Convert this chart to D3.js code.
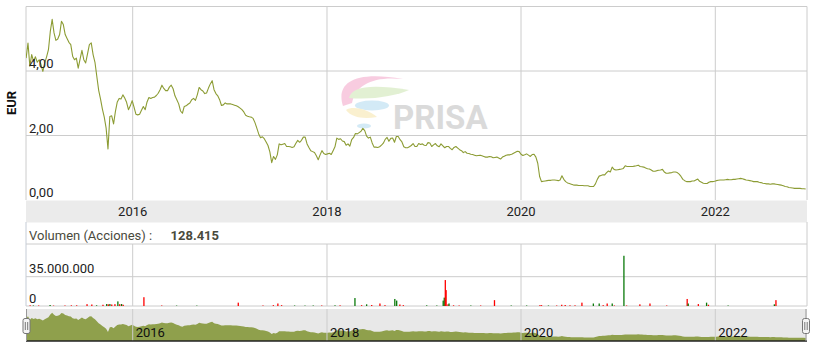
<!DOCTYPE html>
<html>
<head>
<meta charset="utf-8">
<script src="https://cdn.jsdelivr.net/npm/d3@7"></script>
<style>
  body { margin: 0; background: #fff; }
  svg { display: block; font-family: Roboto, "Noto Sans", sans-serif; }
</style>
</head>
<body>
<div id="chart"></div>
<script>
// weekly closes (EUR), first week starting 2014-11-26
const firstWeek = "2014-11-26";
const weeklyClose = [
  4.40,4.87,4.15,4.51,4.30,4.44,4.27,4.35,4.20,3.99,4.25,4.44,4.66,5.23,5.60,5.18,4.95,4.99,5.13,5.54,
  5.44,5.13,5.01,4.89,4.82,4.46,4.35,4.40,4.09,4.37,4.64,4.35,4.25,4.53,4.82,4.87,4.51,4.27,3.83,3.40,
  3.13,2.82,2.57,2.23,1.58,2.59,2.61,2.36,2.75,3.04,3.15,3.13,3.26,3.16,3.03,2.80,2.92,3.08,2.88,2.66,
  2.64,2.66,2.78,2.90,2.80,3.04,3.18,3.15,3.18,3.19,3.24,3.31,3.42,3.56,3.46,3.39,3.39,3.50,3.56,3.45,
  3.23,3.11,2.98,2.76,2.69,2.90,2.92,2.97,3.01,3.11,3.15,3.09,3.26,3.49,3.42,3.38,3.30,3.32,3.47,3.60,
  3.70,3.42,3.30,3.23,3.11,2.93,2.95,3.01,2.98,2.98,2.98,2.96,2.94,2.92,2.89,2.85,2.80,2.73,2.63,2.60,
  2.58,2.57,2.53,2.40,2.23,2.05,1.93,1.96,1.90,1.80,1.69,1.49,1.16,1.35,1.26,1.40,1.74,1.71,1.73,1.75,
  1.66,1.66,1.65,1.63,1.65,1.76,1.85,1.79,1.85,1.95,1.95,1.74,1.63,1.53,1.50,1.47,1.37,1.25,1.40,1.53,
  1.44,1.41,1.43,1.45,1.41,1.53,1.65,1.92,1.88,1.90,1.83,1.81,1.70,1.74,1.67,1.87,1.94,2.06,2.05,2.09,
  2.13,2.22,2.15,1.98,1.92,1.95,1.77,1.64,1.64,1.63,1.65,1.70,1.76,1.88,1.94,1.82,1.91,1.92,1.79,1.97,
  1.97,1.87,1.80,1.65,1.62,1.62,1.65,1.69,1.75,1.66,1.66,1.75,1.72,1.74,1.70,1.69,1.78,1.77,1.66,1.71,
  1.75,1.68,1.65,1.74,1.68,1.62,1.66,1.66,1.60,1.56,1.63,1.66,1.61,1.56,1.53,1.47,1.50,1.45,1.44,1.42,
  1.41,1.39,1.37,1.38,1.39,1.37,1.35,1.33,1.33,1.35,1.34,1.31,1.32,1.33,1.30,1.27,1.33,1.36,1.39,1.40,
  1.40,1.42,1.45,1.48,1.51,1.50,1.42,1.38,1.40,1.43,1.39,1.35,1.41,1.42,1.33,1.14,0.73,0.57,0.58,0.59,
  0.60,0.61,0.61,0.62,0.62,0.61,0.60,0.62,0.75,0.64,0.57,0.53,0.51,0.49,0.47,0.46,0.46,0.45,0.45,0.45,
  0.44,0.44,0.44,0.42,0.42,0.42,0.50,0.64,0.74,0.76,0.78,0.78,0.85,0.90,0.87,1.02,0.95,0.93,0.94,0.95,
  0.96,0.98,1.06,1.04,1.04,1.04,1.04,1.05,1.06,1.08,1.04,1.03,1.02,0.99,0.97,0.96,0.93,0.89,0.89,0.91,
  0.92,0.93,0.95,0.87,0.83,0.83,0.84,0.85,0.87,0.87,0.85,0.80,0.73,0.64,0.60,0.57,0.57,0.57,0.59,0.59,
  0.62,0.65,0.58,0.55,0.52,0.51,0.51,0.55,0.57,0.57,0.58,0.60,0.61,0.62,0.62,0.62,0.63,0.64,0.63,0.63,
  0.64,0.64,0.65,0.66,0.67,0.66,0.64,0.62,0.61,0.60,0.59,0.57,0.57,0.57,0.55,0.54,0.52,0.51,0.50,0.50,
  0.49,0.50,0.50,0.49,0.48,0.47,0.46,0.44,0.42,0.41,0.39,0.38,0.37,0.36,0.36,0.36,0.36,0.35,0.35,0.34
];

// daily volume (millions of shares), up = closed higher than previous day
const volDates = [
  "2014-12-11","2014-12-23","2015-01-12","2015-02-24","2015-03-09","2015-04-21","2015-05-15","2015-06-04",
  "2015-07-13","2015-07-31","2015-08-18","2015-09-11","2015-09-25","2015-10-01","2015-10-07","2015-10-14",
  "2015-10-26","2015-11-06","2015-11-13","2015-11-20","2015-11-26","2016-02-12","2016-04-19","2016-06-14",
  "2016-08-29","2017-02-01","2017-05-05","2017-06-13","2017-06-30","2017-07-14","2017-09-01","2017-10-10",
  "2017-11-10","2017-12-12","2018-01-31","2018-02-19","2018-04-16","2018-05-11","2018-05-30","2018-06-18",
  "2018-07-19","2018-08-07","2018-09-13","2018-09-20","2018-10-02","2018-10-15","2019-01-11","2019-02-18",
  "2019-03-14","2019-03-18","2019-03-22","2019-03-25","2019-04-01","2019-04-05","2019-04-22","2019-05-13",
  "2019-06-26","2019-08-02","2019-09-23","2019-11-25","2020-01-22","2020-03-12","2020-03-18","2020-04-13",
  "2020-05-14","2020-06-02","2020-06-15","2020-07-03","2020-07-22","2020-08-17","2020-09-29","2020-10-21",
  "2020-11-05","2020-11-20","2020-12-09","2020-12-17","2021-01-22","2021-02-01","2021-03-23","2021-04-30",
  "2021-07-02","2021-09-17","2021-09-21","2021-10-29","2021-11-29","2021-12-06","2022-02-18","2022-08-11",
  "2022-08-17"
];
const volMillions = [
  0.8,0.6,0.6,1.2,0.5,0.6,0.8,0.8,
  2.2,1.8,0.8,1.5,2.4,2.0,2.4,1.8,
  2.2,5.5,2.2,2.4,1.5,10.5,0.6,0.5,
  0.5,4.0,0.6,1.0,3.0,1.0,0.6,0.5,
  0.6,0.6,0.8,0.8,9.5,1.0,2.0,1.2,
  3.0,1.0,8.4,6.5,1.8,1.0,0.8,0.6,
  6.4,10.0,31.0,19.0,2.0,3.0,0.8,0.6,
  0.6,0.6,7.0,0.6,0.6,1.0,1.0,0.6,
  0.6,1.5,1.2,0.8,0.8,4.0,3.0,3.0,
  1.0,3.0,3.0,0.6,60.0,0.6,2.0,3.0,
  0.6,8.4,3.0,2.3,4.0,1.5,0.6,2.0,
  7.0
];
const volUp = [
  0,1,0,1,0,0,0,0,
  0,0,1,0,1,0,1,0,
  0,1,0,1,0,0,0,1,
  1,0,0,0,0,0,1,1,
  1,0,1,0,1,0,1,0,
  0,0,1,1,0,0,1,1,
  1,1,0,0,0,1,0,0,
  1,0,0,1,1,0,0,1,
  0,0,0,0,0,0,1,1,
  0,0,1,0,1,0,0,0,
  0,0,1,0,1,0,1,1,
  0
];

const priceTicks = [0, 2, 4];
const volTicks = [0, 35000000];
const yearTicks = ["2016", "2018", "2020", "2022"];
const lastVolume = "128.415";

const width = 815;
const height = 351;
const left = 26;
const right = 807;
const priceTop = 6.5;
const priceBottom = 200;
const volTop = 244;
const volBottom = 306;
const navTop = 309;
const navBottom = 341;

const lineColor = "#8c9c34";
const navColor = "#8fa04c";
const gridColor = "#cccccc";

const es = d3.formatLocale({ decimal: ",", thousands: ".", grouping: [3], currency: ["", "€"] });
const fmtPrice = es.format(",.2f");
const fmtVol = es.format(",d");

const parse = d3.utcParse("%Y-%m-%d");
const start = parse(firstWeek);
const prices = weeklyClose.map((v, i) => ({ date: d3.utcDay.offset(start, i * 7), v }));
const volumes = volDates.map((s, i) => ({ date: parse(s), v: volMillions[i] * 1e6, up: volUp[i] === 1 }));
const years = yearTicks.map((y) => parse(y + "-01-01"));

const x = d3.scaleUtc()
  .domain([parse("2016-01-01"), parse("2022-01-01")])
  .range([132.7, 715.3]);
const y = d3.scaleLinear().domain([0, 6]).range([priceBottom, priceTop]);
const yVol = d3.scaleLinear().domain([0, 35000000]).range([volBottom, 276.7]);
const yNav = d3.scaleLinear().domain([0, 6.4]).range([navBottom - 1.5, navTop]);

const svg = d3.select("#chart")
  .append("svg")
  .attr("width", width)
  .attr("height", height);

svg.append("defs")
  .append("clipPath")
  .attr("id", "plot-clip")
  .append("rect")
  .attr("x", left)
  .attr("y", priceTop - 2)
  .attr("width", right - left)
  .attr("height", priceBottom - priceTop + 2);

// ---- price panel ----
const price = svg.append("g");

price.selectAll(".hgrid")
  .data([2, 4, 6])
  .enter()
  .append("line")
  .attr("x1", left)
  .attr("x2", right)
  .attr("y1", (d) => y(d))
  .attr("y2", (d) => y(d))
  .attr("stroke", gridColor);

price.selectAll(".vgrid")
  .data(years)
  .enter()
  .append("line")
  .attr("x1", (d) => x(d))
  .attr("x2", (d) => x(d))
  .attr("y1", priceTop)
  .attr("y2", priceBottom)
  .attr("stroke", gridColor);

price.append("line")
  .attr("x1", left).attr("x2", left)
  .attr("y1", priceTop).attr("y2", priceBottom)
  .attr("stroke", gridColor);
price.append("line")
  .attr("x1", right).attr("x2", right)
  .attr("y1", priceTop).attr("y2", priceBottom)
  .attr("stroke", gridColor);

// watermark
const mark = price.append("g").attr("opacity", 0.5);
mark.append("path")
  .attr("d", "M343,106 C336,84 352,70 403,79 C374,76 356,84 352,103 Z")
  .attr("fill", "#f29bc3");
mark.append("path")
  .attr("d", "M349,98 C352,86 372,84 409,90 C396,96 372,100 349,98 Z")
  .attr("fill", "#c7e3a8");
mark.append("ellipse")
  .attr("cx", 372).attr("cy", 105.5).attr("rx", 17).attr("ry", 5)
  .attr("fill", "#a9d6ef");
mark.append("path")
  .attr("d", "M346,110 C352,106 366,108 377,117 C364,119 352,118 346,110 Z")
  .attr("fill", "#f7e3a0");
mark.append("ellipse")
  .attr("cx", 364).attr("cy", 126).attr("rx", 7).attr("ry", 2.5)
  .attr("fill", "#a9d6ef");
price.append("text")
  .attr("x", 393)
  .attr("y", 128.5)
  .attr("font-size", 33)
  .attr("font-weight", "bold")
  .attr("fill", "#dadada")
  .text("PRISA");

price.append("path")
  .datum(prices)
  .attr("clip-path", "url(#plot-clip)")
  .attr("fill", "none")
  .attr("stroke", lineColor)
  .attr("stroke-width", 1.1)
  .attr("stroke-linejoin", "round")
  .attr("d", d3.line().x((d) => x(d.date)).y((d) => y(d.v)));

price.selectAll(".ylab")
  .data(priceTicks)
  .enter()
  .append("text")
  .attr("x", left + 3)
  .attr("y", (d) => y(d) - 3)
  .attr("font-size", 13)
  .attr("fill", "#222")
  .text((d) => fmtPrice(d));

svg.append("text")
  .attr("transform", "translate(16,103) rotate(-90)")
  .attr("text-anchor", "middle")
  .attr("font-size", 13)
  .attr("font-weight", "bold")
  .attr("fill", "#111")
  .text("EUR");

// x axis band
svg.append("rect")
  .attr("x", left)
  .attr("y", priceBottom + 0.5)
  .attr("width", right - left)
  .attr("height", 22)
  .attr("fill", "#ebebeb");

svg.selectAll(".xlab")
  .data(years)
  .enter()
  .append("text")
  .attr("x", (d) => x(d))
  .attr("y", 216)
  .attr("text-anchor", "middle")
  .attr("font-size", 13)
  .attr("fill", "#222")
  .text((d) => d3.utcFormat("%Y")(d));

// ---- volume panel ----
const vol = svg.append("g");

vol.append("text")
  .attr("x", left + 3)
  .attr("y", 240)
  .attr("font-size", 13)
  .attr("fill", "#4a4a3c")
  .text("Volumen (Acciones) :");
vol.append("text")
  .attr("x", 170.5)
  .attr("y", 240)
  .attr("font-size", 13)
  .attr("font-weight", "bold")
  .attr("fill", "#4a4a3c")
  .text(lastVolume);

vol.selectAll(".hgrid")
  .data([volTop, yVol(35000000), volBottom])
  .enter()
  .append("line")
  .attr("x1", left)
  .attr("x2", right)
  .attr("y1", (d) => d)
  .attr("y2", (d) => d)
  .attr("stroke", gridColor);

vol.selectAll(".vgrid")
  .data(years)
  .enter()
  .append("line")
  .attr("x1", (d) => x(d))
  .attr("x2", (d) => x(d))
  .attr("y1", volTop)
  .attr("y2", volBottom)
  .attr("stroke", gridColor);

vol.append("line")
  .attr("x1", left).attr("x2", left)
  .attr("y1", priceBottom + 22).attr("y2", volBottom)
  .attr("stroke", "#c5ccd6");
vol.append("line")
  .attr("x1", right).attr("x2", right)
  .attr("y1", priceBottom + 22).attr("y2", volBottom)
  .attr("stroke", gridColor);

vol.selectAll(".vlab")
  .data(volTicks)
  .enter()
  .append("text")
  .attr("x", left + 3)
  .attr("y", (d) => yVol(d) - 3.5)
  .attr("font-size", 13)
  .attr("fill", "#222")
  .text((d) => fmtVol(d));

vol.selectAll(".bar")
  .data(volumes)
  .enter()
  .append("rect")
  .attr("x", (d) => x(d.date) - 0.6)
  .attr("y", (d) => yVol(d.v))
  .attr("width", 1.3)
  .attr("height", (d) => volBottom - yVol(d.v))
  .attr("fill", (d) => (d.up ? "#0b7a0b" : "#ff0000"));

// ---- navigator ----
const nav = svg.append("g");

nav.append("rect")
  .attr("x", left)
  .attr("y", navTop)
  .attr("width", right - left)
  .attr("height", navBottom - navTop)
  .attr("fill", "#e8e8e8");

nav.append("path")
  .datum(prices)
  .attr("fill", navColor)
  .attr("d", d3.area().x((d) => x(d.date)).y0(navBottom).y1((d) => yNav(d.v)));

nav.selectAll(".vgrid")
  .data(years)
  .enter()
  .append("line")
  .attr("x1", (d) => x(d))
  .attr("x2", (d) => x(d))
  .attr("y1", navTop)
  .attr("y2", navBottom)
  .attr("stroke", gridColor);

nav.selectAll(".navlab")
  .data(years)
  .enter()
  .append("text")
  .attr("x", (d) => x(d) + 3)
  .attr("y", 337)
  .attr("font-size", 13)
  .attr("fill", "#111")
  .text((d) => d3.utcFormat("%Y")(d));

nav.append("line")
  .attr("x1", left)
  .attr("x2", right)
  .attr("y1", navBottom)
  .attr("y2", navBottom)
  .attr("stroke", "#222")
  .attr("stroke-width", 1.5);

const handles = nav.selectAll(".handle")
  .data([left + 0.5, right - 1])
  .enter()
  .append("g")
  .attr("transform", (d) => `translate(${d},0)`);

handles.append("line")
  .attr("y1", navTop)
  .attr("y2", navBottom)
  .attr("stroke", "#999");

handles.append("rect")
  .attr("x", -3.5)
  .attr("y", 318.5)
  .attr("width", 7)
  .attr("height", 15)
  .attr("rx", 2)
  .attr("fill", "#f4f4f4")
  .attr("stroke", "#777");

handles.selectAll(".grip")
  .data([-1.2, 1.2])
  .enter()
  .append("line")
  .attr("x1", (d) => d)
  .attr("x2", (d) => d)
  .attr("y1", 322)
  .attr("y2", 330)
  .attr("stroke", "#777");
</script>
</body>
</html>
